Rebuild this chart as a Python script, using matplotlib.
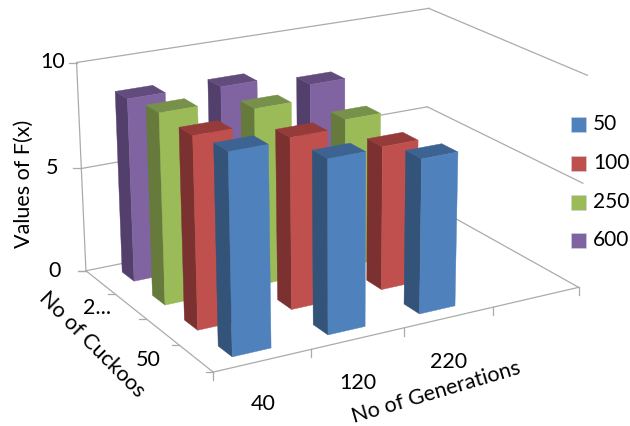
import numpy as np
import matplotlib
matplotlib.use('Agg')
from matplotlib import pyplot as plt
from matplotlib.patches import Polygon, Rectangle

generations = ['40', '120', '220']
cuckoo_labels = ['50', '2...']
series_names = ['50', '100', '250', '600']

# one row per series, one value per generation count
values_50 = [9.1, 8.0, 7.2]
values_100 = [8.85, 8.0, 6.8]
values_250 = [8.95, 8.4, 7.15]
values_600 = [8.7, 8.55, 7.95]

front_colors = ['#4F81BD', '#C0504D', '#9BBB59', '#8064A2']
top_colors = ['#3C6392', '#953B3A', '#78914A', '#624C7D']
side_colors = ['#335379', '#7B3130', '#667A3B', '#533F6B']
GRID = '#ABABAB'

plt.rcParams['font.family'] = ['Lato', 'DejaVu Sans']


def fit_projection(world, pixels):
    # plain DLT fit, last matrix entry fixed at 1
    rows, rhs = [], []
    for (x, y, z), (px, py) in zip(world, pixels):
        rows.append([x, y, z, 1, 0, 0, 0, 0, -px * x, -px * y, -px * z])
        rows.append([0, 0, 0, 0, x, y, z, 1, -py * x, -py * y, -py * z])
        rhs += [px, py]
    sol = np.linalg.lstsq(np.array(rows, float), np.array(rhs, float), rcond=None)[0]
    return np.append(sol, 1).reshape(3, 4)


# x: generation slots 0..4 (last slot is empty), y: series depth 0..4, z: value 0..10
box_world = [(0, 0, 0), (4, 0, 0), (0, 4, 0), (4, 4, 0),
             (0, 4, 10), (4, 4, 10), (4, 0, 10), (0, 4, 5), (4, 4, 5), (4, 0, 5)]
box_pixels = [(213, 373), (578, 286), (86, 270), (427, 204),
              (77, 63), (428, 8), (588, 76), (81, 168), (427, 106), (583, 183)]
P = fit_projection(box_world, box_pixels)


def project(x, y, z):
    p = P @ np.array([x, y, z, 1.0])
    return p[0] / p[2], p[1] / p[2]


fig = plt.figure(figsize=(6.3, 4.26), dpi=100)
ax = fig.add_axes([0, 0, 1, 1])
ax.set_xlim(0, 630)
ax.set_ylim(426, 0)
ax.axis('off')


def line3d(a, b):
    pa, pb = project(*a), project(*b)
    ax.plot([pa[0], pb[0]], [pa[1], pb[1]], color=GRID, lw=0.9, zorder=1)


# walls and floor outline
for z in [0, 5, 10]:
    line3d((0, 4, z), (4, 4, z))
    line3d((4, 4, z), (4, 0, z))
line3d((0, 4, 0), (0, 4, 10))
line3d((0, 0, 0), (4, 0, 0))
line3d((0, 0, 0), (0, 4, 0))

# tick marks
for z in [0, 5, 10]:
    px, py = project(0, 4, z)
    ax.plot([px - 8, px], [py, py], color=GRID, lw=0.9, zorder=1)
for i in range(5):
    px, py = project(i, 0, 0)
    ax.plot([px, px], [py, py + 8], color=GRID, lw=0.9, zorder=1)
for j in range(5):
    px, py = project(0, j, 0)
    ax.plot([px - 7, px], [py, py], color=GRID, lw=0.9, zorder=1)

WIDTH = 0.4
all_values = [values_50, values_100, values_250, values_600]


def face(pts, color):
    ax.add_patch(Polygon([project(*p) for p in pts], closed=True, facecolor=color,
                         edgecolor=color, lw=0.3, zorder=2))


# back row first, right to left so nearer bars cover farther ones
for s in reversed(range(len(series_names))):
    for g in reversed(range(len(generations))):
        h = all_values[s][g]
        x0, x1 = g + 0.5 - WIDTH / 2, g + 0.5 + WIDTH / 2
        y0, y1 = s + 0.5 - WIDTH / 2, s + 0.5 + WIDTH / 2
        face([(x0, y0, 0), (x0, y1, 0), (x0, y1, h), (x0, y0, h)], side_colors[s])
        face([(x0, y0, h), (x0, y1, h), (x1, y1, h), (x1, y0, h)], top_colors[s])
        face([(x0, y0, 0), (x1, y0, 0), (x1, y0, h), (x0, y0, h)], front_colors[s])

FS = 15.5
for label, (x, y) in zip(['10', '5', '0'], [(53, 62), (52, 168), (55, 271)]):
    ax.text(x, y, label, fontsize=FS, ha='center', va='center')
for label, (x, y) in zip(cuckoo_labels, [(148, 360), (97, 308)]):
    ax.text(x, y, label, fontsize=FS, ha='center', va='center')
for label, (x, y) in zip(generations, [(263, 404), (358, 383), (449, 362)]):
    ax.text(x, y, label, fontsize=FS, ha='center', va='center')

ax.text(24, 184, 'Values of F(x)', fontsize=FS, rotation=90, ha='center', va='center')
ax.text(92, 344, 'No of Cuckoos', fontsize=FS, rotation=-45, ha='center', va='center',
        rotation_mode='anchor')
ax.text(436, 392, 'No of Generations', fontsize=FS, rotation=16.5, ha='center', va='center',
        rotation_mode='anchor')

# legend on the right, drawn by hand to keep the tight spacing
for name, color, y in zip(series_names, front_colors, [124, 163, 202, 240]):
    ax.add_patch(Rectangle((571, y - 7), 15, 15, facecolor=color, edgecolor='#C9D6E8', lw=0.4))
    ax.text(593, y, name, fontsize=15, ha='left', va='center')

fig.savefig('out.png', dpi=100)
